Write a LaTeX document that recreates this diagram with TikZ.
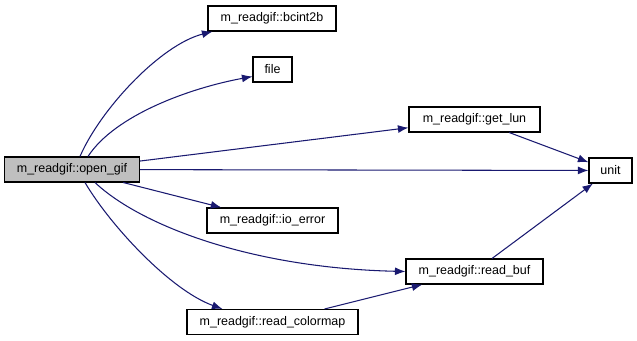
\documentclass[tikz,border=0pt]{standalone}
\usepackage{fontspec}
\setmainfont{Liberation Sans}
\usetikzlibrary{positioning, arrows.meta}
\definecolor{edgeblue}{RGB}{25,25,112}
\definecolor{callergray}{RGB}{191,191,191}

\begin{document}
\begin{tikzpicture}[
x=0.02cm, y=-0.02cm,
every node/.style={
draw,
rectangle,
line width=0.6pt,
minimum height=0.5cm,
inner sep=0pt,
align=center,
font=\fontsize{7.1}{8.5}\selectfont,
text=black,
fill=white
},
call/.style={-{Latex[length=6pt, width=4.5pt]}, draw=edgeblue, line width=0.6pt}
]
\useasboundingbox (0,0) rectangle (637,341);
\node[fill=callergray, minimum width=2.7cm] (open_gif) at (72,169.5) {m\_readgif::open\_gif};
\node[minimum width=2.56cm] (bcint2b) at (272,18.5) {m\_readgif::bcint2b};
\node[minimum width=0.78cm] (file) at (272.5,69.5) {file};
\node[minimum width=2.62cm] (get_lun) at (474.5,119.5) {m\_readgif::get\_lun};
\node[minimum width=0.86cm] (unit) at (610.5,170.5) {unit};
\node[minimum width=2.62cm] (io_error) at (272.5,220.5) {m\_readgif::io\_error};
\node[minimum width=2.74cm] (read_buf) at (474.5,271.5) {m\_readgif::read\_buf};
\node[minimum width=3.42cm] (read_colormap) at (272.5,322) {m\_readgif::read\_colormap};

% straight calls
\foreach \i/\j in {open_gif/get_lun, open_gif/unit, open_gif/io_error, get_lun/unit, read_buf/unit, read_colormap/read_buf}
\draw[call] (\i) -- (\j);

% curved calls
\draw[call] ([xshift=0.16cm]open_gif.north) .. controls (100,110) and (160,45) .. ([xshift=0.1cm]bcint2b.south west);
\draw[call] ([xshift=0.32cm]open_gif.north) .. controls (115,115) and (190,88) .. ([yshift=-0.14cm]file.west);
\draw[call] ([xshift=0.46cm]open_gif.south) .. controls (140,225) and (250,268) .. (read_buf.west);
\draw[call] ([xshift=0.26cm]open_gif.south) .. controls (110,225) and (170,290) .. ([xshift=0.72cm]read_colormap.north west);
\end{tikzpicture}
\end{document}
